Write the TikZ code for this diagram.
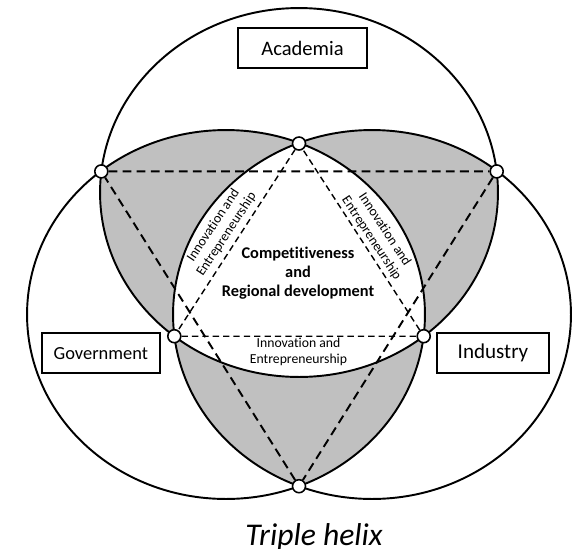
\documentclass[tikz,border=0pt]{standalone}
\usepackage{fontspec}
\setmainfont{Carlito}[Ligatures=NoCommon]
\definecolor{lensgray}{RGB}{192,192,192}

\begin{document}
\begin{tikzpicture}[x=0.02cm, y=-0.02cm, line width=1.1pt,
  helix/.style={x radius=3.98cm, y radius=3.69cm},
  dot/.style={circle, draw, fill=white, line width=0.9pt, minimum size=0.26cm, inner sep=0pt},
  sector/.style={draw, fill=white, line width=1.1pt, minimum height=0.8cm, inner sep=0pt, font=\fontsize{11.7}{14}\selectfont},
  smalllabel/.style={align=center, inner sep=0pt, font=\fontsize{7.8}{9}\selectfont},
  outerdash/.style={line width=1.1pt, dash pattern=on 5pt off 3pt},
  innerdash/.style={line width=0.8pt, dash pattern=on 3.6pt off 2.3pt}]
	\useasboundingbox (0,0) rectangle (574,548);
	\coordinate (a) at (299,192.5);
	\coordinate (g) at (226,314.5);
	\coordinate (i) at (372,314.5);
	\begin{scope}
	  \clip (a) ellipse [helix];
	  \fill[lensgray] (g) ellipse [helix];
	  \fill[lensgray] (i) ellipse [helix];
	\end{scope}
	\begin{scope}
	  \clip (g) ellipse [helix];
	  \fill[lensgray] (i) ellipse [helix];
	\end{scope}
	\begin{scope}
	  \clip (a) ellipse [helix];
	  \clip (g) ellipse [helix];
	  \fill[white] (i) ellipse [helix];
	\end{scope}
	\draw (a) ellipse [helix];
	\draw (g) ellipse [helix];
	\draw (i) ellipse [helix];
	\node[dot] (agout) at (101.3,171.4) {};
	\node[dot] (aiout) at (496.7,171.4) {};
	\node[dot] (gibot) at (299,486.2) {};
	\node[dot] (gitop) at (299,143.5) {};
	\node[dot] (aiin) at (174.3,336.2) {};
	\node[dot] (agin) at (423.7,336.2) {};
	\draw[outerdash] (agout) -- (aiout) -- (gibot) -- (agout);
	\draw[innerdash] (gitop) -- (aiin) -- (agin) -- (gitop);
	\node[sector, minimum width=2.57cm] (academia) at (302.5,48.3) {Academia};
	\node[sector, minimum width=2.37cm, font=\fontsize{10.5}{13}\selectfont] (government) at (100.8,353.3) {Government};
	\node[sector, minimum width=2.25cm, font=\fontsize{12}{14}\selectfont] (industry) at (493,353.3) {Industry};
	\node[align=center, font=\bfseries\fontsize{9.3}{10.8}\selectfont] (core) at (298,273) {Competitiveness\\and\\Regional development};
	\node[smalllabel, rotate=56.5] (ieleft) at (220,230) {Innovation and\\Entrepreneurship};
	\node[smalllabel, rotate=-56.5] (ieright) at (378,234) {Innovation and\\Entrepreneurship};
	\node[smalllabel] (iebottom) at (298.5,352) {Innovation and\\Entrepreneurship};
	\node[anchor=base, font=\itshape\fontsize{18}{21}\selectfont] (title) at (314,545) {Triple helix};
\end{tikzpicture}
\end{document}
